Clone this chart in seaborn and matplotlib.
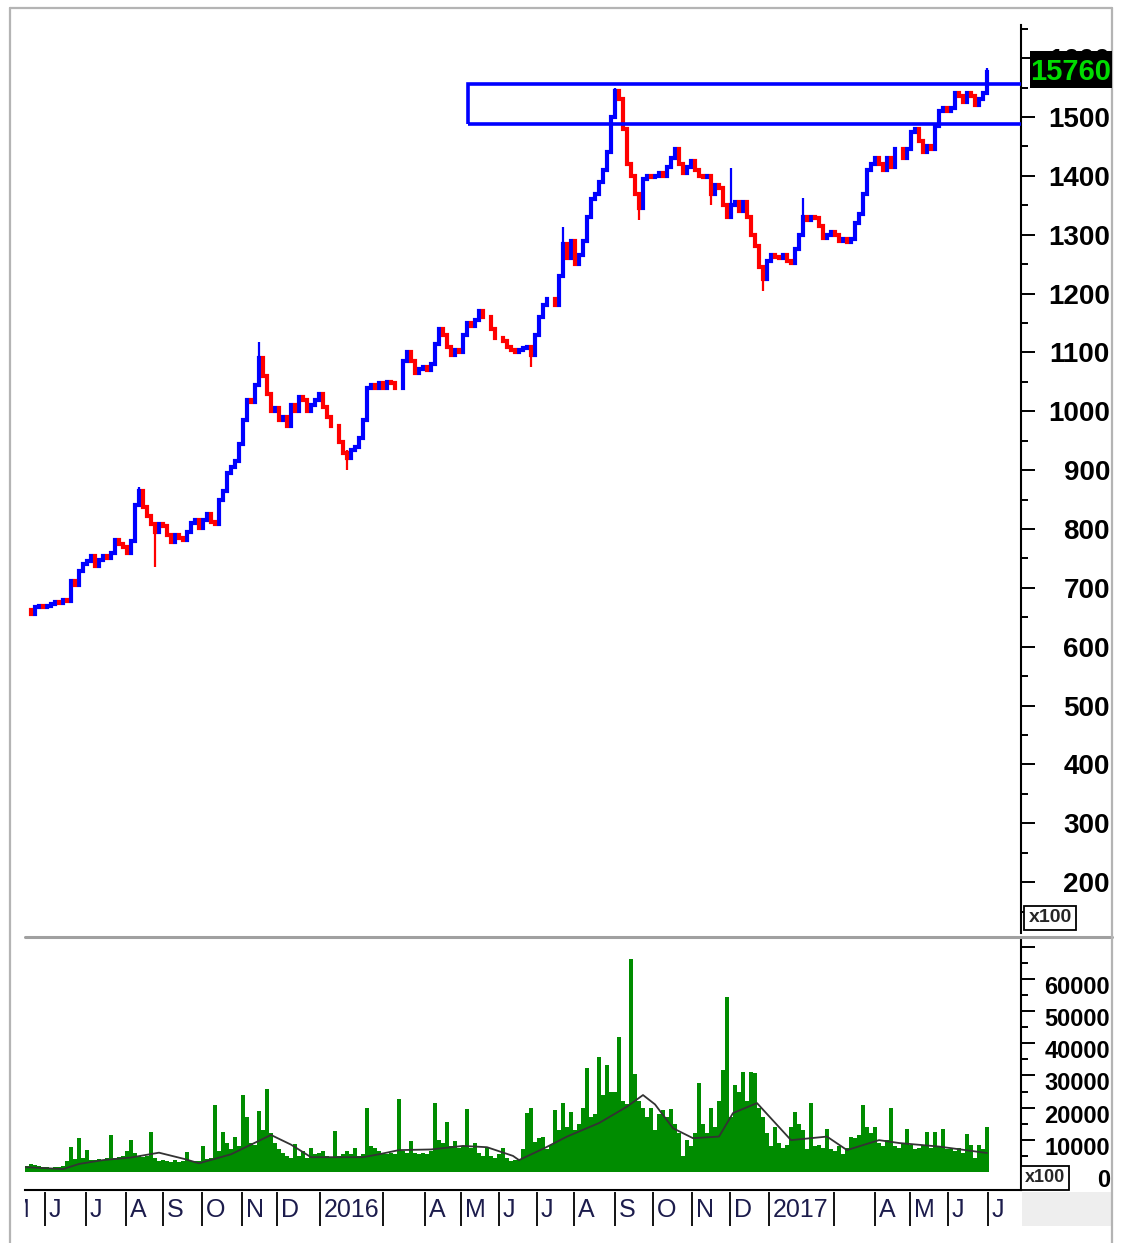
import numpy as np
import pandas as pd
import matplotlib
matplotlib.use("Agg")
import matplotlib.pyplot as plt
import matplotlib.transforms as mtransforms
from matplotlib.lines import Line2D
from matplotlib.patches import Rectangle
from matplotlib.ticker import MultipleLocator, FuncFormatter
import seaborn as sns

# ---------------------------------------------------------------------------
# Data (one bar ~ two trading days, May 2015 - Jul 2017)
# price in x100, volume in x100
# ---------------------------------------------------------------------------
CLOSE = [
    662, 655, 668, 670, 667, 670, 672, 676, 674, 680,
    678, 712, 705, 728, 740, 745, 755, 738, 748, 755,
    750, 760, 782, 775, 770, 760, 780, 840, 865, 838,
    822, 808, 795, 808, 805, 790, 778, 790, 785, 782,
    795, 810, 815, 802, 815, 825, 812, 808, 850, 865,
    895, 905, 915, 945, 985, 1020, 1015, 1045, 1090, 1060,
    1030, 1000, 1005, 985, 990, 975, 1010, 1000, 1025, 1020,
    1000, 1010, 1020, 1030, 1008, 990, 975, 975, 948, 930,
    920, 935, 940, 955, 985, 1040, 1045, 1040, 1048, 1040,
    1050, 1048, 1040, 1040, 1085, 1100, 1085, 1065, 1072, 1075,
    1070, 1080, 1115, 1140, 1130, 1110, 1095, 1105, 1100, 1130,
    1150, 1145, 1155, 1170, 1160, 1160, 1140, 1125, 1125, 1120,
    1110, 1105, 1100, 1105, 1108, 1110, 1095, 1130, 1160, 1180,
    1190, 1190, 1180, 1230, 1285, 1260, 1290, 1250, 1265, 1290,
    1330, 1360, 1370, 1390, 1410, 1440, 1500, 1545, 1530, 1480,
    1420, 1400, 1370, 1345, 1395, 1400, 1398, 1400, 1405, 1400,
    1415, 1430, 1445, 1420, 1405, 1415, 1425, 1410, 1400, 1398,
    1400, 1370, 1385, 1380, 1350, 1330, 1350, 1355, 1340, 1355,
    1330, 1300, 1280, 1245, 1225, 1255, 1265, 1263, 1260, 1265,
    1255, 1252, 1275, 1300, 1330, 1325, 1330, 1328, 1315, 1295,
    1300, 1305, 1300, 1290, 1292, 1288, 1292, 1320, 1335, 1370,
    1410, 1420, 1430, 1420, 1410, 1430, 1415, 1445, 1445, 1430,
    1445, 1475, 1480, 1460, 1440, 1450, 1445, 1485, 1510, 1515,
    1510, 1515, 1540, 1535, 1525, 1540, 1535, 1520, 1530, 1540,
    1576,
]

VOLUME = [
    2000, 2500, 2200, 1800, 1500, 1500, 1300, 1400, 1600, 2000,
    3500, 7700, 4000, 10500, 4500, 6800, 3800, 3600, 4000, 3800,
    4200, 11500, 4500, 4600, 5000, 6500, 9900, 6000, 5000, 4800,
    5000, 12400, 4500, 3500, 3800, 3300, 3200, 3600, 3000, 3400,
    6200, 3300, 3500, 3400, 8000, 4000, 4500, 20800, 6500, 12400,
    9000, 7000, 11000, 8000, 23900, 17000, 9000, 8500, 18900, 13000,
    25800, 12000, 9000, 7000, 6000, 5000, 4500, 8700, 5000, 6500,
    4500, 7500, 5500, 6000, 6500, 5000, 4500, 12700, 5000, 5500,
    6500, 5500, 7500, 5000, 5500, 20000, 8000, 7500, 6500, 6000,
    5500, 6000, 5500, 22600, 6500, 6000, 9500, 6000, 5500, 6000,
    5500, 6500, 21400, 10000, 9000, 15500, 8000, 9500, 7500, 8000,
    19500, 7500, 9000, 6000, 5000, 7500, 5000, 4500, 5500, 7400,
    4500, 3500, 3800, 4000, 7000, 18300, 20000, 9300, 10500, 11000,
    7000, 8500, 19200, 13000, 21300, 14000, 18600, 13000, 15000, 19800,
    32200, 17000, 18000, 35600, 24000, 33200, 25000, 25000, 41900, 22000,
    21000, 66300, 30400, 22000, 20000, 17000, 20000, 13000, 18000, 19200,
    17000, 19500, 15000, 12000, 5000, 10000, 8000, 12000, 27600, 15000,
    12000, 20000, 14000, 22000, 31600, 54200, 17000, 27000, 25000, 31000,
    22000, 31000, 30700, 20000, 17000, 12000, 8000, 13900, 9000, 7500,
    8500, 14000, 18500, 15000, 13000, 7000, 21400, 8000, 8500, 7500,
    13500, 7000, 6500, 8000, 5500, 7500, 11000, 10500, 11500, 20700,
    14000, 12000, 14000, 9000, 8000, 10000, 19800, 8000, 7500, 9000,
    13500, 8500, 7000, 7500, 8500, 12400, 7500, 12400, 8000, 13400,
    7000, 7000, 6500, 7500, 6000, 11800, 8500, 4500, 8500, 7000,
    14000,
]

# volume moving average, read at a few points along the line
MA_BAR = [-0.5, 4.5, 9, 13, 19, 26, 33, 39.5, 43, 51, 56, 61, 66, 71, 78, 84,
          88, 93, 101, 109, 115, 121.5, 123, 129.5, 135, 143, 150, 154, 157,
          161.5, 166.5, 173, 176.5, 182.5, 191, 200, 205, 213, 218, 228, 240]
MA_VALUE = [1500, 1200, 900, 2500, 3700, 4500, 6000, 4000, 2700, 5500, 8500,
            11500, 8500, 4600, 4600, 4600, 5500, 6800, 7000, 8100, 7700, 5000,
            3700, 7500, 11000, 15200, 20300, 23900, 21000, 13600, 10500,
            11000, 18300, 21400, 9900, 11000, 6800, 9900, 9000, 7900, 5900]

# intraday extremes that stick out of the close-to-close bodies
WICK_BAR = [28, 32, 58, 80, 126, 134, 147, 153, 171, 176, 184, 194, 240]
WICK_LOW = [840, 735, 1060, 900, 1075, 1240, 1500, 1325, 1350, 1330, 1205, 1310, 1540]
WICK_HIGH = [871, 810, 1118, 935, 1110, 1313, 1550, 1370, 1400, 1413, 1245, 1362, 1583]

# resistance zone drawn on the chart
ZONE_START = 110.25
ZONE_LOW = 1488
ZONE_HIGH = 1556

# month boundaries (bar index) and their labels
MONTH_START = [-5.5, 4.5, 14.75, 24.75, 34, 43.75, 53.75, 62.5, 73.25, 89,
               99.5, 108.5, 118, 127.5, 136.75, 147, 156.5, 166.25, 175.75,
               185.5, 201.75, 212, 220.75, 230.25, 240.25]
MONTH_LABEL = ["M", "J", "J", "A", "S", "O", "N", "D", "2016", "",
               "A", "M", "J", "J", "A", "S", "O", "N", "D",
               "2017", "", "A", "M", "J", "J"]

PRICE_TICKS = list(range(200, 1700, 100))
VOLUME_TICKS = list(range(0, 80000, 10000))

BLUE, RED, GREEN = "#0000FF", "#FF0000", "#008C00"
W, H = 1128, 1243


def px_box(x0, y0, x1, y1):
    return [x0 / W, 1 - y1 / H, (x1 - x0) / W, (y1 - y0) / H]


sns.set_style("white")
plt.rcParams["font.family"] = ["Liberation Sans", "DejaVu Sans"]

fig = plt.figure(figsize=(W / 100, H / 100), dpi=100)
ax_p = fig.add_axes(px_box(25, 25, 1021, 933))
ax_v = fig.add_axes(px_box(25, 940, 1021, 1190))
ax_d = fig.add_axes(px_box(25, 1190, 1021, 1228))

df = pd.DataFrame({"bar": np.arange(len(CLOSE)), "close": CLOSE, "volume": VOLUME})
df["open"] = df["close"].shift(1).fillna(df["close"])
df["up"] = df["close"] >= df["open"]
df["lo"] = df[["open", "close"]].min(axis=1)
df["hi"] = df[["open", "close"]].max(axis=1)
ma = pd.DataFrame({"bar": MA_BAR, "ma": MA_VALUE})

# ---------------------------------------------------------------------------
# price panel
# ---------------------------------------------------------------------------
for up, color in [(True, BLUE), (False, RED)]:
    sub = df[df["up"] == up]
    ax_p.vlines(sub["bar"], sub["lo"], sub["hi"], colors=color, lw=3.0,
                capstyle="projecting")

wick_colors = [BLUE if df.loc[b, "up"] else RED for b in WICK_BAR]
ax_p.vlines(WICK_BAR, WICK_LOW, WICK_HIGH, colors=wick_colors, lw=1.6)

ax_p.add_patch(Rectangle((ZONE_START, ZONE_LOW), 1000, ZONE_HIGH - ZONE_LOW,
                         fill=False, ec=BLUE, lw=2.6, clip_on=True, zorder=4))

ax_p.set_xlim(-0.5, 248.5)
ax_p.set_ylim(113.7, 1656.3)
ax_p.set_xticks([])
ax_p.yaxis.tick_right()
ax_p.set_yticks(PRICE_TICKS)
ax_p.yaxis.set_minor_locator(MultipleLocator(50))
ax_p.tick_params(axis="y", which="major", length=10, width=1.4, pad=54,
                 labelsize=20, direction="out", color="black")
ax_p.tick_params(axis="y", which="minor", length=5, width=1.4, direction="out",
                 color="black")
plt.setp(ax_p.get_yticklabels(), ha="right", fontweight="bold", color="black")
for side in ["left", "top", "bottom"]:
    ax_p.spines[side].set_visible(False)
ax_p.spines["right"].set_color("black")
ax_p.spines["right"].set_linewidth(1.5)

# last-price tag on the right axis (it hides most of the 1600 label, as in the original)
last = CLOSE[-1]
tag_y = ax_p.transData.transform((0, last))[1]
pix = mtransforms.IdentityTransform()
fig.add_artist(Rectangle((1030, tag_y - 16), 82, 37, transform=pix,
                         fc="black", ec="none", zorder=5))
fig.text(1071, tag_y, f"{last * 10}", transform=pix, ha="center", va="center",
         fontsize=21, fontweight="bold", color="#00DD00", zorder=6)

# ---------------------------------------------------------------------------
# volume panel
# ---------------------------------------------------------------------------
sns.barplot(data=df, x="bar", y="volume", color=GREEN, saturation=1,
            width=1.0, linewidth=0, ax=ax_v)
sns.lineplot(data=ma, x="bar", y="ma", color="#333333", lw=1.3, ax=ax_v)

ax_v.set_xlim(-0.5, 248.5)
ax_v.set_ylim(-5590, 72050)
ax_v.set_xticks([])
ax_v.set_xlabel("")
ax_v.set_ylabel("")
ax_v.yaxis.tick_right()
ax_v.set_yticks(VOLUME_TICKS)
ax_v.yaxis.set_major_formatter(FuncFormatter(lambda v, p: "" if v > 65000 else f"{int(v)}"))
ax_v.yaxis.set_minor_locator(MultipleLocator(5000))
ax_v.tick_params(axis="y", which="major", length=10, width=1.4, pad=54,
                 labelsize=17, direction="out", color="black")
ax_v.tick_params(axis="y", which="minor", length=5, width=1.4, direction="out",
                 color="black")
plt.setp(ax_v.get_yticklabels(), ha="right", fontweight="bold", color="black")
# labels sit a little below their ticks in the original
shift = mtransforms.ScaledTranslation(0, -6 / 100, fig.dpi_scale_trans)
for tick in ax_v.yaxis.get_major_ticks():
    tick.label2.set_transform(tick.label2.get_transform() + shift)
for side in ["left", "top"]:
    ax_v.spines[side].set_visible(False)
for side in ["right", "bottom"]:
    ax_v.spines[side].set_color("black")
    ax_v.spines[side].set_linewidth(1.5)

# ---------------------------------------------------------------------------
# month strip
# ---------------------------------------------------------------------------
ax_d.set_xlim(-0.5, 248.5)
ax_d.set_ylim(0, 1)
ax_d.axis("off")
ax_d.vlines(MONTH_START, 0.05, 0.95, colors="black", lw=1.3)
for m, lab in zip(MONTH_START, MONTH_LABEL):
    ax_d.text(m + 0.9, 0.48, lab, ha="left", va="center", fontsize=18,
              color="#1c1c4c", clip_on=True)

# ---------------------------------------------------------------------------
# frame and decorations
# ---------------------------------------------------------------------------
fig.add_artist(Rectangle((1022 / W, 1 - 1226 / H), 90 / W, 34 / H,
                         transform=fig.transFigure, fc="#eeeeee", ec="none"))
fig.add_artist(Line2D([25 / W, 1112 / W], [1 - 937 / H] * 2,
                      transform=fig.transFigure, color="#a0a0a0", lw=2.2))
frame = dict(transform=fig.transFigure, color="#b4b4b4", lw=1.6)
fig.add_artist(Line2D([10 / W, 10 / W], [0, 1 - 8 / H], **frame))
fig.add_artist(Line2D([10 / W, 1112 / W], [1 - 8 / H] * 2, **frame))
fig.add_artist(Line2D([1112 / W, 1112 / W], [0, 1 - 8 / H], **frame))

box = dict(boxstyle="square,pad=0.2", fc="white", ec="black", lw=1.3)
fig.text(1050 / W, 1 - 918 / H, "x100", ha="center", va="center",
         fontsize=14, fontweight="bold", bbox=box)
fig.text(1045 / W, 1 - 1178 / H, "x100", ha="center", va="center",
         fontsize=13, fontweight="bold", bbox=box)

fig.savefig("out.png", dpi=100)
